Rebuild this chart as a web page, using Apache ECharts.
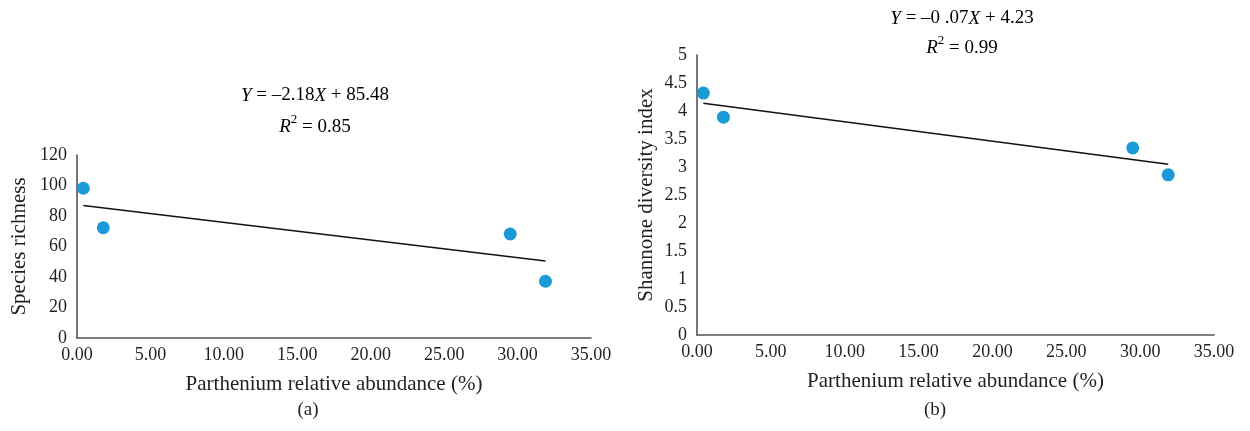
<!DOCTYPE html>
<html>
<head>
<meta charset="utf-8">
<script src="https://cdn.jsdelivr.net/npm/echarts@6/dist/echarts.min.js"></script>
<style>
  html, body { margin: 0; padding: 0; background: #fff; }
  #chart { width: 1250px; height: 431px; }
</style>
</head>
<body>
<div id="chart"></div>
<script>
// parthenium relative abundance (%) of the four sites
var abundance = [0.43, 1.79, 29.5, 31.9];
// (a) species richness
var richness = [98.2, 72.3, 68.2, 37.2];
// (b) shannon diversity index
var shannon = [4.32, 3.89, 3.34, 2.86];
// fitted trend lines as drawn (end points)
var trendA = [[0.43, 86.9], [31.9, 50.5]];
var trendB = [[0.43, 4.14], [31.9, 3.05]];

var FONT = 'Liberation Serif';
var TXT = '#231f20';
var AXIS = '#555';
var DOT = '#1b9ad8';

function pairs(xs, ys) {
  return xs.map(function (x, i) { return [x, ys[i]]; });
}

var xAxisBase = {
  type: 'value', min: 0, max: 35, interval: 5,
  axisLine: { show: true, lineStyle: { color: AXIS, width: 1.6 } },
  axisTick: { show: false },
  splitLine: { show: false },
  axisLabel: { color: TXT, fontFamily: FONT, fontSize: 18, margin: 8,
    formatter: function (v) { return v.toFixed(2); } },
  name: 'Parthenium relative abundance (%)',
  nameLocation: 'middle', nameGap: 36,
  nameTextStyle: { color: TXT, fontFamily: FONT, fontSize: 21 }
};

function yAxis(gi, max, interval, name, gap) {
  return {
    type: 'value', gridIndex: gi, min: 0, max: max, interval: interval,
    axisLine: { show: true, lineStyle: { color: AXIS, width: 1.6 } },
    axisTick: { show: false },
    splitLine: { show: false },
    axisLabel: { color: TXT, fontFamily: FONT, fontSize: 18, margin: 10 },
    name: name, nameLocation: 'middle', nameGap: gap,
    nameTextStyle: { color: TXT, fontFamily: FONT, fontSize: 21 }
  };
}

var rich = {
  i: { fontStyle: 'italic', fontFamily: FONT, fontSize: 19, color: TXT },
  n: { fontFamily: FONT, fontSize: 19, color: TXT },
  s: { fontFamily: FONT, fontSize: 13, color: TXT, verticalAlign: 'top', lineHeight: 28 }
};

var chart = echarts.init(document.getElementById('chart'));
chart.setOption({
  animation: false,
  grid: [
    { left: 77, top: 155, width: 514, height: 183 },
    { left: 697, top: 55, width: 517, height: 280 }
  ],
  xAxis: [
    Object.assign({ gridIndex: 0 }, xAxisBase),
    Object.assign({ gridIndex: 1 }, xAxisBase)
  ],
  yAxis: [
    yAxis(0, 120, 20, 'Species richness', 47),
    yAxis(1, 5, 0.5, 'Shannone diversity index', 40)
  ],
  series: [
    { type: 'line', xAxisIndex: 0, yAxisIndex: 0, data: trendA, symbol: 'none',
      lineStyle: { color: '#111', width: 1.5 } },
    { type: 'scatter', xAxisIndex: 0, yAxisIndex: 0, data: pairs(abundance, richness),
      symbolSize: 13, itemStyle: { color: DOT, opacity: 1 } },
    { type: 'line', xAxisIndex: 1, yAxisIndex: 1, data: trendB, symbol: 'none',
      lineStyle: { color: '#111', width: 1.5 } },
    { type: 'scatter', xAxisIndex: 1, yAxisIndex: 1, data: pairs(abundance, shannon),
      symbolSize: 13, itemStyle: { color: DOT, opacity: 1 } }
  ],
  graphic: [
    { type: 'text', x: 315, y: 86, style: { text: '{i|Y}{n| = \u20132.18}{i|X}{n| + 85.48}', rich: rich, align: 'center' } },
    { type: 'text', x: 315, y: 113, style: { text: '{i|R}{s|2}{n| = 0.85}', rich: rich, align: 'center' } },
    { type: 'text', x: 962, y: 9, style: { text: '{i|Y}{n| = \u20130 .07}{i|X}{n| + 4.23}', rich: rich, align: 'center' } },
    { type: 'text', x: 962, y: 34, style: { text: '{i|R}{s|2}{n| = 0.99}', rich: rich, align: 'center' } },
    { type: 'text', x: 308, y: 401, style: { text: '(a)', font: '19px ' + FONT, fill: TXT, align: 'center' } },
    { type: 'text', x: 935, y: 401, style: { text: '(b)', font: '19px ' + FONT, fill: TXT, align: 'center' } }
  ]
});
</script>
</body>
</html>
